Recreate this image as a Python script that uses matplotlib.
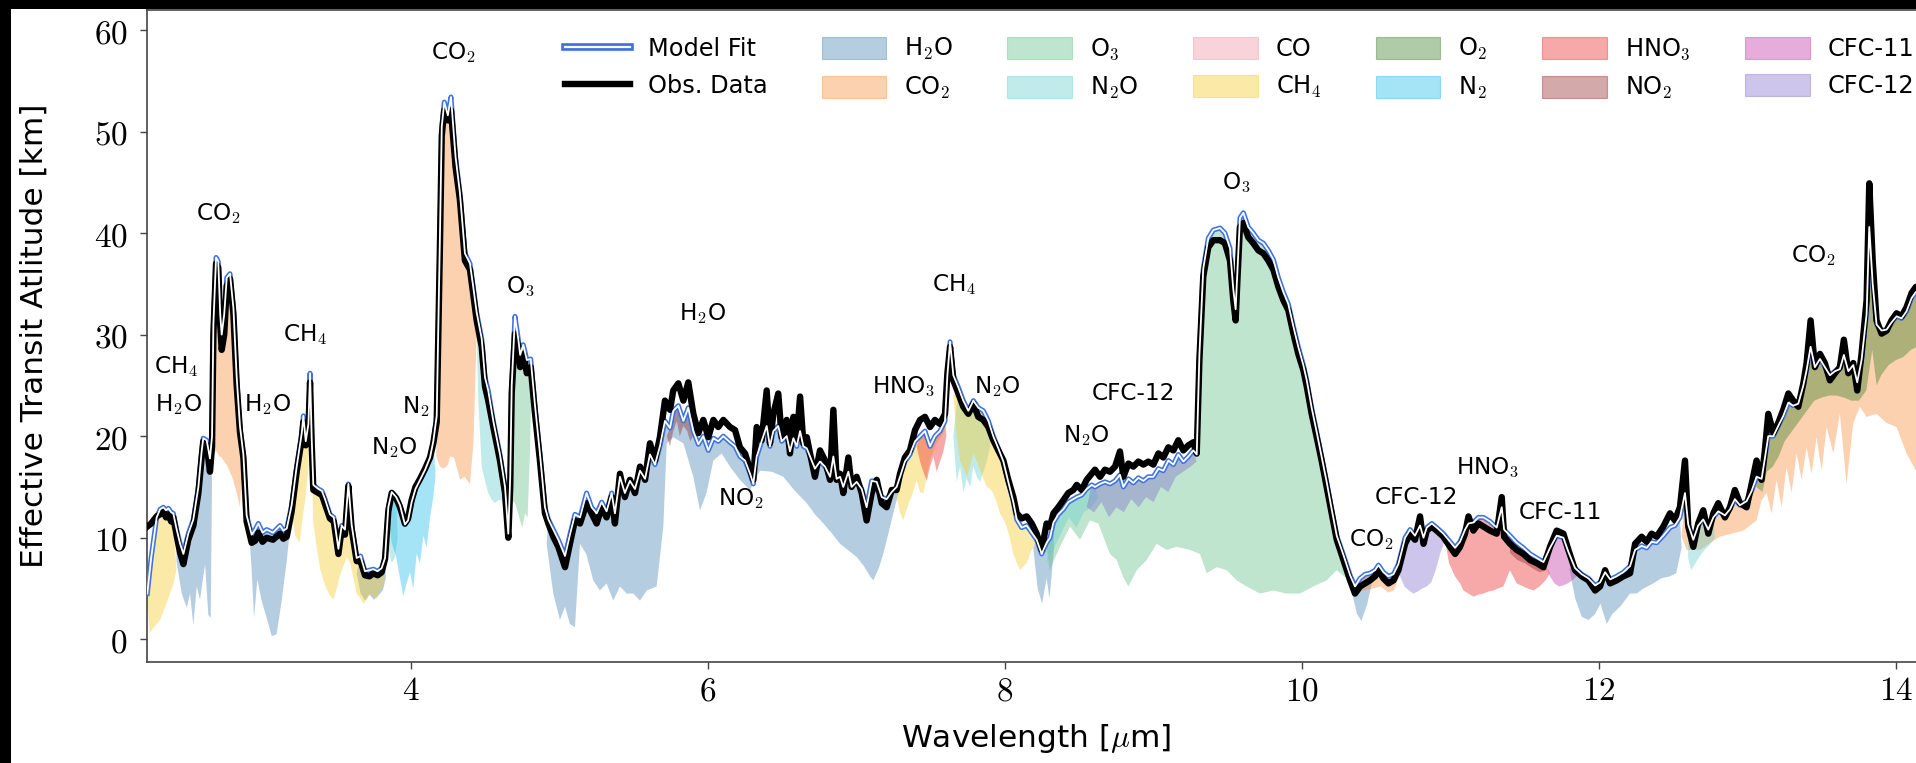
import numpy as np
import matplotlib
matplotlib.use("Agg")
import matplotlib.pyplot as plt
import matplotlib.patheffects as pe
from matplotlib.lines import Line2D
from matplotlib.patches import Patch, Rectangle
from matplotlib.ticker import FuncFormatter

plt.rcParams['font.family'] = ['DejaVu Sans']
plt.rcParams['mathtext.fontset'] = 'cm'

nan = np.nan

# wavelength grid [um], observed spectrum and best-fit model [km]
wl = [2.224, 2.25, 2.287, 2.31, 2.332, 2.35, 2.366, 2.385, 2.399, 2.422,
      2.445, 2.467, 2.50, 2.534, 2.568, 2.59, 2.601, 2.624, 2.646, 2.66,
      2.669, 2.687, 2.702, 2.715, 2.725, 2.742, 2.759, 2.781, 2.804, 2.826,
      2.848, 2.871, 2.893, 2.927, 2.95, 2.972, 3.0, 3.028, 3.07, 3.118,
      3.14, 3.163, 3.196, 3.23, 3.264, 3.275, 3.291, 3.309, 3.32, 3.331,
      3.342, 3.376, 3.40, 3.421, 3.454, 3.48, 3.511, 3.533, 3.555, 3.578,
      3.60, 3.634, 3.66, 3.69, 3.72, 3.746, 3.775, 3.802, 3.825, 3.847,
      3.87, 3.90, 3.926, 3.959, 3.98, 4.004, 4.03, 4.061, 4.095, 4.128,
      4.15, 4.173, 4.195, 4.207, 4.224, 4.248, 4.269, 4.30, 4.329, 4.363,
      4.397, 4.418, 4.442, 4.476, 4.498, 4.52, 4.554, 4.599, 4.633, 4.655,
      4.668, 4.678, 4.70, 4.723, 4.735, 4.756, 4.78, 4.806, 4.835, 4.868,
      4.902, 4.925, 4.958, 4.992, 5.037, 5.07, 5.104, 5.138, 5.182, 5.216,
      5.25, 5.284, 5.317, 5.351, 5.373, 5.407, 5.44, 5.474, 5.508, 5.542,
      5.576, 5.609, 5.643, 5.676, 5.71, 5.744, 5.766, 5.80, 5.834, 5.867,
      5.901, 5.935, 5.968, 6.002, 6.036, 6.069, 6.103, 6.148, 6.182, 6.215,
      6.249, 6.283, 6.305, 6.328, 6.361, 6.395, 6.417, 6.44, 6.473, 6.496,
      6.53, 6.552, 6.575, 6.597, 6.62, 6.642, 6.665, 6.687, 6.72, 6.754,
      6.788, 6.822, 6.844, 6.866, 6.889, 6.911, 6.945, 6.967, 7.001, 7.035,
      7.068, 7.102, 7.136, 7.17, 7.203, 7.237, 7.27, 7.293, 7.326, 7.36,
      7.394, 7.428, 7.461, 7.495, 7.528, 7.562, 7.596, 7.612, 7.63, 7.652,
      7.686, 7.719, 7.753, 7.787, 7.82, 7.854, 7.888, 7.921, 7.955, 7.989,
      8.022, 8.056, 8.079, 8.112, 8.146, 8.18, 8.213, 8.247, 8.28, 8.303,
      8.326, 8.359, 8.393, 8.426, 8.46, 8.483, 8.516, 8.55, 8.584, 8.606,
      8.64, 8.673, 8.707, 8.741, 8.774, 8.797, 8.831, 8.864, 8.898, 8.932,
      8.965, 8.999, 9.033, 9.066, 9.10, 9.134, 9.167, 9.201, 9.235, 9.268,
      9.291, 9.309, 9.335, 9.369, 9.403, 9.448, 9.481, 9.515, 9.537, 9.553,
      9.566, 9.582, 9.605, 9.638, 9.672, 9.706, 9.74, 9.773, 9.807, 9.841,
      9.874, 9.908, 9.942, 9.975, 10.009, 10.032, 10.065, 10.099, 10.132, 10.166,
      10.2, 10.234, 10.279, 10.324, 10.357, 10.391, 10.425, 10.458, 10.492, 10.515,
      10.548, 10.582, 10.616, 10.649, 10.694, 10.728, 10.761, 10.795, 10.818, 10.84,
      10.874, 10.907, 10.952, 10.997, 11.031, 11.064, 11.098, 11.121, 11.154, 11.188,
      11.222, 11.266, 11.311, 11.345, 11.361, 11.401, 11.446, 11.491, 11.536, 11.581,
      11.626, 11.67, 11.715, 11.76, 11.794, 11.839, 11.884, 11.929, 11.974, 12.007,
      12.041, 12.075, 12.119, 12.164, 12.209, 12.243, 12.287, 12.321, 12.354, 12.388,
      12.433, 12.478, 12.511, 12.545, 12.579, 12.601, 12.635, 12.668, 12.702, 12.736,
      12.77, 12.803, 12.848, 12.882, 12.915, 12.949, 12.994, 13.028, 13.061, 13.095,
      13.117, 13.14, 13.174, 13.207, 13.241, 13.275, 13.308, 13.342, 13.376, 13.398,
      13.425, 13.454, 13.488, 13.521, 13.555, 13.589, 13.622, 13.649, 13.679, 13.712,
      13.739, 13.768, 13.802, 13.82, 13.843, 13.869, 13.903, 13.937, 13.97, 14.004,
      14.038, 14.071, 14.105, 14.134, 14.17]

obs = [11.1, 11.4, 12.1, 12.3, 12.6, 12.0, 12.3, 11.6, 12.0, 10.2,
       8.5, 7.4, 9.8, 11.2, 14.4, 17.9, 19.5, 19.1, 16.5, 19.0,
       30.0, 37.0, 36.6, 31.0, 28.5, 30.0, 34.8, 35.5, 32.0, 25.0,
       20.4, 17.9, 11.6, 9.5, 9.7, 10.5, 9.6, 10.0, 9.8, 10.4,
       9.9, 10.1, 12.6, 16.5, 19.7, 21.4, 19.1, 20.7, 25.3, 19.3,
       14.7, 14.4, 14.2, 13.3, 11.9, 11.6, 8.4, 10.9, 10.3, 15.1,
       10.9, 7.7, 7.7, 6.3, 6.2, 6.5, 6.3, 6.6, 7.9, 12.6,
       14.4, 13.9, 13.0, 11.4, 11.9, 13.7, 15.0, 15.8, 16.8, 17.9,
       19.3, 21.4, 39.0, 49.6, 52.1, 51.1, 52.1, 46.5, 43.3, 37.3,
       36.4, 34.1, 31.4, 28.8, 24.9, 23.5, 20.9, 17.6, 14.4, 10.0,
       15.0, 24.2, 30.1, 28.8, 26.8, 28.1, 26.2, 26.8, 22.2, 17.6,
       12.4, 11.4, 10.1, 9.1, 7.1, 9.4, 11.7, 11.4, 13.4, 12.4,
       11.4, 13.0, 12.0, 14.0, 11.4, 16.3, 14.0, 15.7, 14.4, 17.0,
       15.7, 19.3, 17.6, 19.9, 23.5, 22.6, 24.5, 25.2, 23.5, 25.3,
       22.2, 20.3, 21.6, 19.9, 21.6, 20.9, 21.6, 20.9, 20.6, 18.9,
       18.3, 16.7, 15.7, 20.9, 19.6, 24.5, 19.3, 22.2, 24.2, 19.9,
       21.6, 18.3, 21.9, 19.6, 23.9, 19.3, 19.9, 18.3, 16.0, 18.6,
       17.6, 15.7, 22.6, 15.7, 16.3, 14.4, 17.9, 15.0, 16.0, 14.4,
       11.7, 14.4, 15.7, 13.4, 13.0, 14.7, 14.7, 16.3, 17.9, 18.6,
       20.6, 21.6, 21.9, 20.9, 21.6, 21.2, 22.2, 26.2, 28.8, 25.5,
       24.2, 22.9, 22.2, 23.2, 21.9, 21.6, 20.9, 19.6, 18.6, 17.6,
       15.7, 14.0, 12.4, 11.9, 12.1, 11.4, 10.4, 8.8, 11.4, 11.1,
       12.4, 13.0, 13.7, 14.4, 14.7, 15.2, 14.7, 15.7, 16.3, 16.7,
       16.0, 16.7, 16.5, 17.0, 18.5, 16.0, 17.3, 17.0, 17.5, 17.2,
       17.5, 17.2, 18.3, 17.9, 18.9, 18.6, 19.6, 18.6, 19.1, 19.4,
       18.3, 27.5, 35.7, 38.6, 39.3, 39.3, 39.0, 37.3, 33.4, 31.4,
       35.7, 40.6, 41.0, 39.6, 39.0, 38.3, 38.0, 37.3, 36.4, 34.7,
       33.4, 32.4, 30.1, 28.1, 26.5, 24.9, 22.2, 19.9, 17.6, 15.0,
       12.4, 9.8, 7.8, 5.8, 4.5, 5.2, 5.5, 5.8, 6.2, 6.8,
       6.0, 5.5, 5.8, 6.8, 9.4, 10.4, 9.8, 12.1, 9.4, 10.7,
       11.1, 10.7, 10.1, 9.1, 8.4, 9.1, 10.4, 12.1, 10.7, 11.4,
       11.1, 10.7, 10.4, 14.0, 10.1, 9.4, 8.8, 8.4, 7.8, 7.5,
       7.1, 9.1, 10.7, 10.4, 8.8, 6.8, 6.2, 5.8, 4.8, 5.2,
       6.8, 5.5, 5.8, 6.2, 6.5, 9.4, 10.1, 9.6, 10.4, 10.1,
       11.1, 12.4, 11.7, 13.0, 17.6, 11.1, 9.1, 11.4, 12.7, 10.4,
       12.4, 13.4, 12.0, 13.0, 14.7, 13.4, 13.0, 15.3, 17.6, 15.7,
       18.6, 22.2, 20.3, 21.3, 22.6, 24.2, 23.5, 22.9, 25.2, 27.2,
       31.4, 26.8, 28.1, 27.2, 25.5, 26.2, 26.8, 29.5, 26.2, 27.2,
       24.5, 28.1, 33.4, 44.9, 37.3, 31.4, 30.1, 30.4, 31.4, 32.1,
       31.8, 32.7, 34.1, 34.7, 34.5]

model = [4.5, 8.0, 12.0, 12.8, 13.0, 12.7, 12.9, 12.5, 12.4, 10.8,
         9.4, 8.4, 10.4, 11.8, 15.0, 18.5, 19.8, 19.6, 17.8, 20.0,
         31.0, 37.6, 37.2, 32.0, 30.0, 32.0, 35.6, 36.0, 32.6, 25.8,
         21.0, 18.2, 12.2, 10.3, 10.8, 11.4, 10.5, 10.8, 10.5, 11.2,
         10.7, 10.9, 13.2, 17.0, 20.3, 22.0, 19.5, 21.2, 26.2, 19.8,
         15.2, 14.8, 14.6, 13.8, 12.3, 12.0, 8.9, 11.2, 10.8, 15.3,
         11.3, 8.0, 8.2, 6.7, 6.8, 6.9, 6.7, 7.0, 8.0, 13.0,
         14.5, 14.0, 13.2, 11.3, 11.7, 13.5, 14.8, 15.7, 16.7, 17.9,
         19.5, 22.0, 40.0, 50.5, 52.9, 51.6, 53.4, 47.5, 44.0, 38.0,
         37.0, 34.8, 32.2, 29.6, 25.8, 24.5, 21.5, 18.2, 15.0, 10.4,
         16.0, 25.0, 31.8, 29.5, 28.0, 29.0, 27.5, 27.6, 23.0, 18.3,
         13.0, 11.8, 10.8, 9.8, 8.2, 10.3, 12.3, 12.0, 14.4, 13.0,
         12.4, 13.5, 12.6, 14.4, 12.4, 16.0, 14.4, 15.6, 14.8, 16.6,
         15.8, 18.2, 17.2, 19.0, 21.5, 20.8, 22.5, 23.0, 21.5, 22.8,
         20.5, 19.2, 20.0, 18.6, 19.8, 19.5, 20.0, 19.4, 19.0, 18.0,
         17.6, 16.3, 15.3, 18.0, 19.5, 21.0, 19.0, 20.5, 21.0, 19.5,
         20.0, 18.5, 19.8, 19.0, 20.5, 19.0, 18.8, 18.0, 16.8, 17.5,
         17.0, 16.0, 18.0, 15.8, 16.0, 15.0, 16.5, 15.0, 15.5, 14.8,
         13.0, 15.6, 15.5, 14.0, 13.8, 14.5, 15.0, 16.0, 17.5, 18.2,
         19.5, 20.0, 20.5, 19.0, 20.0, 20.5, 21.5, 26.0, 29.3, 26.0,
         24.8, 23.5, 22.5, 23.5, 22.8, 22.5, 21.5, 20.0, 18.8, 17.5,
         15.5, 13.5, 11.8, 11.0, 11.2, 10.5, 9.8, 8.4, 9.5, 10.0,
         11.5, 12.3, 12.8, 13.5, 13.8, 14.0, 14.2, 14.8, 15.2, 15.0,
         15.3, 15.5, 15.3, 15.6, 16.2, 15.0, 15.8, 15.4, 15.9, 15.6,
         16.0, 16.0, 16.8, 16.6, 17.6, 17.2, 18.2, 17.5, 18.0, 18.6,
         18.2, 28.0, 36.5, 39.5, 40.3, 40.5, 40.0, 38.5, 34.5, 32.5,
         36.5, 41.5, 42.0, 40.6, 40.0, 39.3, 39.0, 38.3, 37.4, 35.6,
         34.2, 33.0, 30.8, 28.8, 27.0, 25.5, 22.8, 20.4, 18.0, 15.5,
         12.8, 10.2, 8.3, 6.3, 5.2, 6.0, 6.4, 6.5, 6.8, 7.3,
         6.6, 6.2, 6.4, 7.4, 10.0, 10.8, 10.2, 11.2, 10.0, 11.0,
         11.4, 11.0, 10.4, 9.6, 9.0, 9.6, 10.8, 11.4, 11.5, 12.0,
         12.0, 11.6, 11.0, 13.0, 10.8, 10.2, 9.5, 9.0, 8.4, 8.0,
         7.6, 9.0, 10.2, 10.0, 8.6, 7.0, 6.4, 6.0, 5.3, 5.6,
         6.6, 5.9, 6.2, 6.6, 7.2, 8.8, 9.2, 9.0, 9.6, 9.5,
         10.2, 11.0, 11.2, 12.0, 14.4, 11.3, 9.8, 11.2, 11.8, 10.8,
         12.0, 12.6, 12.2, 12.8, 13.8, 13.2, 13.6, 14.6, 16.0, 15.8,
         17.8, 20.0, 20.0, 21.0, 22.0, 23.3, 23.0, 23.2, 25.0, 26.5,
         28.8, 26.8, 27.6, 26.8, 26.0, 26.4, 26.6, 28.0, 26.4, 27.0,
         25.3, 27.5, 32.0, 40.6, 35.0, 31.0, 30.4, 30.5, 31.2, 31.8,
         31.6, 32.3, 33.6, 34.2, 34.0]

# lower edge of each molecule's contribution band (NaN separates bands)
h2o_w = [2.42, 2.456, 2.49, 2.512, 2.534, 2.557, 2.579, 2.613, 2.635, 2.651, 2.66, nan,
         2.905, 2.927, 2.943, 2.965, 2.994, 3.028, 3.062, 3.095, 3.129, 3.163, 3.19, nan,
         3.634, 3.66, 3.69, 3.72, 3.75, 3.78, 3.81, 3.83, nan,
         4.913, 4.958, 5.003, 5.037, 5.07, 5.104, 5.138, 5.18, 5.227, 5.272,
         5.317, 5.362, 5.407, 5.452, 5.497, 5.542, 5.587, 5.654, 5.699, 5.722,
         5.766, 5.834, 5.901, 5.946, 5.99, 6.036, 6.092, 6.148, 6.215, 6.283,
         6.35, 6.43, 6.507, 6.58, 6.665, 6.72, 6.777, 6.83, 6.889, 6.95,
         7.001, 7.05, 7.091, 7.113, 7.15, 7.18, 7.248, 7.282, nan,
         8.19, 8.22, 8.25, 8.28, 8.30, 8.33, nan,
         10.33, 10.37, 10.40, 10.44, 10.47, nan,
         11.80, 11.84, 11.884, 11.93, 11.974, 12.01, 12.052, 12.09, 12.142, 12.209,
         12.253, 12.30, 12.365, 12.42, 12.478, 12.52, 12.556]
h2o_lo = [7.7, 4.5, 3.1, 4.5, 1.4, 5.2, 3.9, 7.4, 2.4, 2.1, 15.8, nan,
          11.6, 6.8, 2.1, 5.9, 3.8, 2.1, 0.3, 0.5, 3.8, 7.7, 11.6, nan,
          6.5, 4.5, 3.8, 4.4, 3.9, 4.3, 4.8, 6.0, nan,
          9.4, 4.5, 1.9, 3.2, 1.5, 1.2, 9.4, 8.4, 5.8, 4.8,
          5.5, 3.8, 5.2, 4.5, 4.5, 3.8, 4.8, 5.2, 11.1, 19.3,
          19.9, 19.3, 16.0, 12.7, 14.4, 17.6, 18.3, 17.0, 15.7, 14.7,
          16.6, 16.5, 16.0, 14.7, 13.4, 12.3, 11.4, 10.5, 9.4, 8.7,
          8.1, 7.2, 6.2, 5.8, 7.0, 8.4, 12.4, 14.4, nan,
          9.0, 5.0, 3.5, 6.0, 4.0, 9.0, nan,
          5.0, 2.5, 1.8, 3.5, 5.5, nan,
          7.0, 4.0, 2.2, 1.9, 2.5, 3.5, 1.5, 2.5, 3.2, 4.5,
          4.5, 5.0, 5.5, 6.0, 6.2, 6.5, 9.0]

co2_w = [2.669, 2.687, 2.71, 2.725, 2.742, 2.759, 2.78, 2.80, 2.826, 2.848, 2.86, nan,
         4.17, 4.195, 4.22, 4.25, 4.262, 4.29, 4.33, 4.36, 4.397, 4.42, 4.442, nan,
         4.85, 4.88, 4.91, 4.93, nan,
         10.37, 10.42, 10.48, 10.53, 10.58, 10.62, 10.65, nan,
         12.556, 12.59, 12.68, 12.814, 12.972, 13.061, 13.095, 13.129, 13.162, 13.196,
         13.23, 13.263, 13.297, 13.331, 13.364, 13.398, 13.432, 13.465, 13.499, 13.533,
         13.578, 13.622, 13.667, 13.712, 13.757, 13.802, 13.869, 13.937, 14.004, 14.071,
         14.134, 14.17]
co2_lo = [18.0, 18.6, 18.0, 17.9, 17.5, 17.2, 16.5, 15.8, 14.4, 13.0, 16.0, nan,
          18.0, 17.0, 16.8, 17.2, 18.0, 17.9, 15.7, 16.0, 15.3, 19.3, 30.0, nan,
          20.0, 14.0, 12.5, 11.5, nan,
          4.6, 4.8, 5.0, 5.2, 4.6, 4.8, 6.0, nan,
          10.1, 8.8, 8.8, 10.1, 10.7, 11.7, 13.7, 14.4, 12.4, 15.7,
          13.0, 17.0, 14.4, 18.3, 15.7, 18.9, 16.3, 19.9, 16.6, 20.9,
          18.3, 22.2, 15.3, 21.3, 22.9, 21.9, 22.2, 21.3, 20.9, 18.3,
          16.6, 16.0]

o3_w = [4.666, 4.68, 4.70, 4.72, 4.734, 4.75, 4.767, 4.785, 4.80, 4.81, nan,
        8.281, 8.30, 8.37, 8.438, 8.505, 8.572, 8.629, 8.662, 8.707, 8.752,
        8.797, 8.831, 8.887, 8.954, 9.021, 9.089, 9.156, 9.246, 9.313, 9.358,
        9.425, 9.493, 9.56, 9.627, 9.717, 9.807, 9.897, 9.987, 10.076, 10.166,
        10.233, 10.30, 10.33]
o3_lo = [13.0, 13.7, 13.4, 12.5, 11.7, 11.0, 12.4, 12.0, 18.0, 24.0, nan,
         9.0, 6.8, 9.1, 11.1, 9.8, 11.7, 11.4, 10.1, 8.4, 7.8,
         6.1, 5.2, 6.8, 7.8, 9.4, 8.8, 9.1, 8.8, 8.4, 6.5,
         7.1, 6.8, 5.8, 5.2, 4.5, 4.8, 4.5, 4.5, 5.2, 5.8,
         6.8, 6.0, 5.5]

n2o_w = [3.847, 3.87, 3.89, 3.91, nan,
         4.442, 4.453, 4.476, 4.50, 4.52, 4.54, 4.565, 4.59, 4.61, 4.63, 4.644, 4.655, 4.666, nan,
         7.652, 7.675, 7.697, 7.72, 7.742, 7.765, 7.787, 7.81, 7.832, 7.855, 7.877, 7.90, nan,
         8.28, 8.33, 8.38, 8.43, 8.48, 8.53, 8.58, 8.63, nan,
         12.60, 12.62, 12.65, 12.68, 12.71, 12.74, 12.78]
n2o_lo = [9.0, 7.5, 8.0, 10.0, nan,
          30.0, 23.5, 17.0, 15.5, 14.4, 13.8, 13.4, 13.7, 13.7, 13.0, 12.4, 10.0, 11.1, nan,
          20.0, 15.5, 17.0, 14.5, 15.8, 15.0, 17.0, 16.0, 15.5, 16.5, 17.5, 19.0, nan,
          7.5, 9.0, 10.5, 12.0, 11.0, 12.5, 13.0, 14.0, nan,
          8.0, 6.8, 7.5, 8.2, 8.8, 9.2, 10.0]

co_w = [4.57, 4.60, 4.63, 4.655]
co_lo = [18.5, 16.8, 14.2, 9.8]

ch4_w = [2.224, 2.24, 2.27, 2.31, 2.34, 2.37, 2.40, 2.42, nan,
         3.196, 3.22, 3.25, 3.27, 3.29, 3.31, nan,
         3.331, 3.342, 3.365, 3.387, 3.41, 3.432, 3.455, 3.477, 3.50, 3.522,
         3.545, 3.567, 3.59, 3.612, 3.634, 3.66, 3.68, 3.702, 3.724, 3.746,
         3.77, 3.79, 3.81, 3.825, nan,
         7.27, 7.293, 7.315, 7.338, 7.36, 7.383, 7.405, 7.428, 7.45, 7.473,
         7.495, 7.518, 7.54, 7.563, 7.585, 7.605, nan,
         7.652, 7.675, 7.697, 7.72, 7.742, 7.765, 7.787, 7.81, 7.832, 7.855,
         7.877, 7.90, 7.921, 7.944, 7.966, 7.99, 8.011, 8.035, 8.056, 8.08,
         8.101, 8.125, 8.146, 8.17, 8.191, 8.21]
ch4_lo = [4.0, 0.6, 1.2, 1.9, 3.0, 4.2, 5.5, 6.8, nan,
          12.5, 10.2, 9.5, 12.0, 14.0, 17.0, nan,
          17.0, 11.5, 9.0, 7.0, 5.8, 4.9, 4.3, 3.9, 5.0, 6.3,
          7.2, 8.1, 7.5, 6.0, 4.5, 4.0, 3.5, 3.9, 4.5, 4.2,
          4.0, 4.9, 5.0, 6.0, nan,
          14.0, 12.5, 11.7, 12.8, 13.7, 14.6, 15.7, 14.5, 14.4, 16.0,
          17.6, 18.5, 19.3, 19.8, 20.3, 21.0, nan,
          24.0, 20.0, 17.6, 16.8, 16.0, 17.0, 18.3, 17.5, 16.7, 15.8,
          15.0, 14.8, 14.4, 13.5, 12.4, 11.8, 11.1, 9.8, 8.4, 7.5,
          6.8, 7.2, 7.5, 8.5, 9.1, 9.5]

o2_w = [13.06, 13.10, 13.13, 13.17, 13.21, 13.25, 13.30, 13.35, 13.40, 13.45,
        13.50, 13.55, 13.60, 13.65, 13.70, 13.75, 13.80, 13.84, 13.87, 13.90,
        13.95, 14.00, 14.05, 14.10, 14.17]
o2_lo = [15.0, 14.5, 16.5, 17.0, 18.0, 19.5, 20.5, 21.5, 22.5, 23.5,
         23.8, 24.0, 24.0, 23.8, 23.5, 23.5, 24.5, 28.5, 25.0, 26.0,
         27.0, 27.5, 27.8, 28.5, 29.0]

n2_w = [3.847, 3.87, 3.90, 3.926, 3.948, 3.97, 3.993, 4.015, 4.038, 4.06,
        4.083, 4.105, 4.128, 4.15, 4.165]
n2_lo = [12.0, 9.5, 8.1, 6.0, 4.2, 5.5, 6.6, 5.0, 8.4, 7.5,
         10.2, 9.0, 12.0, 14.0, 16.1]

hno3_w = [7.405, 7.428, 7.45, 7.473, 7.495, 7.518, 7.54, 7.563, 7.585, 7.605, nan,
          10.963, 10.99, 11.03, 11.065, 11.087, 11.12, 11.154, 11.19, 11.221, 11.255,
          11.289, 11.32, 11.356, 11.40, 11.446, 11.49, 11.52, 11.558, 11.60, 11.64, 11.67]
hno3_lo = [19.0, 17.5, 16.5, 15.6, 17.0, 18.0, 16.5, 17.5, 18.5, 20.0, nan,
           9.8, 7.5, 6.2, 5.5, 4.8, 4.5, 4.2, 4.4, 4.5, 4.7,
           4.8, 5.0, 5.2, 6.8, 5.5, 5.2, 5.0, 4.8, 5.2, 5.8, 6.5]

no2_w = [5.722, 5.744, 5.766, 5.79, 5.81, 5.834, 5.86, 5.88, 5.90, nan,
         11.40, 11.45, 11.50, 11.55, 11.60, 11.65]
no2_lo = [20.0, 19.0, 20.5, 21.5, 20.0, 21.0, 20.5, 19.5, 20.0, nan,
          8.5, 7.8, 7.5, 7.0, 6.6, 6.8]

cfc11_w = [11.648, 11.67, 11.70, 11.73, 11.76, 11.79, 11.82, 11.85, 11.884, 11.91]
cfc11_lo = [7.0, 6.2, 5.5, 5.2, 5.3, 5.5, 5.8, 6.2, 6.5, 6.3]

cfc12_w = [8.55, 8.60, 8.65, 8.70, 8.75, 8.80, 8.85, 8.90, 8.95, 9.00,
           9.05, 9.10, 9.15, 9.20, 9.25, 9.29, nan,
           10.638, 10.66, 10.69, 10.72, 10.75, 10.78, 10.81, 10.84, 10.87, 10.90, 10.93, 10.963]
cfc12_lo = [13.0, 12.5, 13.5, 12.0, 13.0, 12.5, 13.8, 13.0, 14.0, 13.5,
            15.0, 14.5, 16.0, 16.5, 17.0, 17.5, nan,
            6.8, 6.2, 5.2, 4.8, 4.5, 4.7, 5.0, 5.2, 5.6, 6.8, 8.4, 9.8]

# species labels written on the spectrum: text, wavelength, altitude
feature_labels = [
    ("CO$_2$", 2.705, 41.9), ("CH$_4$", 2.42, 26.9), ("H$_2$O", 2.435, 23.1),
    ("H$_2$O", 3.036, 23.1), ("CH$_4$", 3.29, 30.0), ("CO$_2$", 4.283, 57.8),
    ("O$_3$", 4.734, 34.7), ("N$_2$", 4.03, 22.9), ("N$_2$O", 3.89, 18.9),
    ("H$_2$O", 5.965, 32.1), ("NO$_2$", 6.22, 13.9), ("HNO$_3$", 7.317, 24.9),
    ("CH$_4$", 7.66, 34.9), ("N$_2$O", 7.95, 24.9), ("N$_2$O", 8.55, 20.1),
    ("CFC-12", 8.865, 24.2), ("O$_3$", 9.56, 44.9), ("CO$_2$", 10.47, 9.8),
    ("CFC-12", 10.77, 14.0), ("HNO$_3$", 11.25, 16.9), ("CFC-11", 11.74, 12.5),
    ("CO$_2$", 13.44, 37.8),
]

species = [
    ("H$_2$O", h2o_w, h2o_lo, "#4682b4"),
    ("CO$_2$", co2_w, co2_lo, "#f78c39"),
    ("O$_3$", o3_w, o3_lo, "#60be86"),
    ("N$_2$O", n2o_w, n2o_lo, "#66cfcb"),
    ("CO", co_w, co_lo, "#f091a3"),
    ("CH$_4$", ch4_w, ch4_lo, "#f7c825"),
    ("O$_2$", o2_w, o2_lo, "#3a7f26"),
    ("N$_2$", n2_w, n2_lo, "#20b9eb"),
    ("HNO$_3$", hno3_w, hno3_lo, "#eb282b"),
    ("NO$_2$", no2_w, no2_lo, "#912828"),
    ("CFC-11", cfc11_w, cfc11_lo, "#c134a5"),
    ("CFC-12", cfc12_w, cfc12_lo, "#826ecf"),
]

wl = np.array(wl)
obs = np.array(obs)
model = np.array(model)
assert len(wl) == len(obs) == len(model)


def bands(w, lo):
    w = np.asarray(w, float)
    lo = np.asarray(lo, float)
    assert len(w) == len(lo)
    start = 0
    for stop in list(np.flatnonzero(np.isnan(w))) + [len(w)]:
        yield w[start:stop], lo[start:stop]
        start = stop + 1


W, H = 1916, 763
fig = plt.figure(figsize=(W / 100, H / 100), dpi=100)
fig.patch.set_facecolor("black")
fig.add_artist(Rectangle((11 / W, 0), 1, 1 - 9 / H, transform=fig.transFigure,
                         facecolor="white", edgecolor="none", zorder=-10))

ax = fig.add_axes([147 / W, 101 / H, 1783 / W, 652 / H])
ax.set_facecolor("white")

patches = []
for name, w, lo, col in species:
    for bw, blo in bands(w, lo):
        inside = (wl > bw[0]) & (wl < bw[-1])
        xs = np.concatenate([wl[inside], bw[::-1]])
        ys = np.concatenate([model[inside], blo[::-1]])
        ax.fill(xs, ys, color=col, alpha=0.4, lw=0, zorder=1)
    patches.append(Patch(facecolor=col, edgecolor=col, alpha=0.4, lw=0.8))

blue = "#3d72e0"
ax.plot(wl, model, color=blue, lw=3.6, zorder=3, solid_joinstyle="round")
ax.plot(wl, obs, color="black", lw=4.6, zorder=4, solid_joinstyle="round")
ax.plot(wl, model, color="white", lw=1.3, zorder=5, solid_joinstyle="round")

for txt, x, y in feature_labels:
    ax.text(x, y, txt, ha="center", va="center", fontsize=16.7, zorder=6)

ax.set_xlim(2.222, 14.229)
ax.set_ylim(-2.24, 61.97)
ax.set_xticks([4, 6, 8, 10, 12, 14])
ax.set_yticks(range(0, 61, 10))
fmt = FuncFormatter(lambda v, p: f"${v:.0f}$")
ax.xaxis.set_major_formatter(fmt)
ax.yaxis.set_major_formatter(fmt)
ax.tick_params(axis="both", labelsize=24, direction="out", length=5, width=1.0,
               color="#444444")
ax.tick_params(axis="y", pad=9)
ax.tick_params(axis="x", pad=4)
for s in ax.spines.values():
    s.set_color("#444444")
    s.set_linewidth(1.2)

ax.set_ylabel("Effective Transit Atlitude [km]", fontsize=22.5, va="center")
ax.yaxis.set_label_coords(-0.0634, 0.5)
ax.set_xlabel("Wavelength [$\\mu$m]", fontsize=22.5, va="center")
ax.xaxis.set_label_coords(0.4986, -0.1166)

model_h = Line2D([], [], color="white", lw=1.6,
                 path_effects=[pe.Stroke(linewidth=5.5, foreground=blue), pe.Normal()])
obs_h = Line2D([], [], color="black", lw=4.6)
names = [s[0] for s in species]
ax.legend([model_h, obs_h] + patches, ["Model Fit", "Obs. Data"] + names,
          ncol=7, loc="upper left", bbox_to_anchor=(565 / W, 1 - 36 / H),
          bbox_transform=fig.transFigure, frameon=False, fontsize=17.3,
          handlelength=2.7, handleheight=1.0, handletextpad=0.75,
          columnspacing=2.25, labelspacing=0.55, borderpad=0, borderaxespad=0)

fig.savefig("out.png", dpi=100, facecolor=fig.get_facecolor())
